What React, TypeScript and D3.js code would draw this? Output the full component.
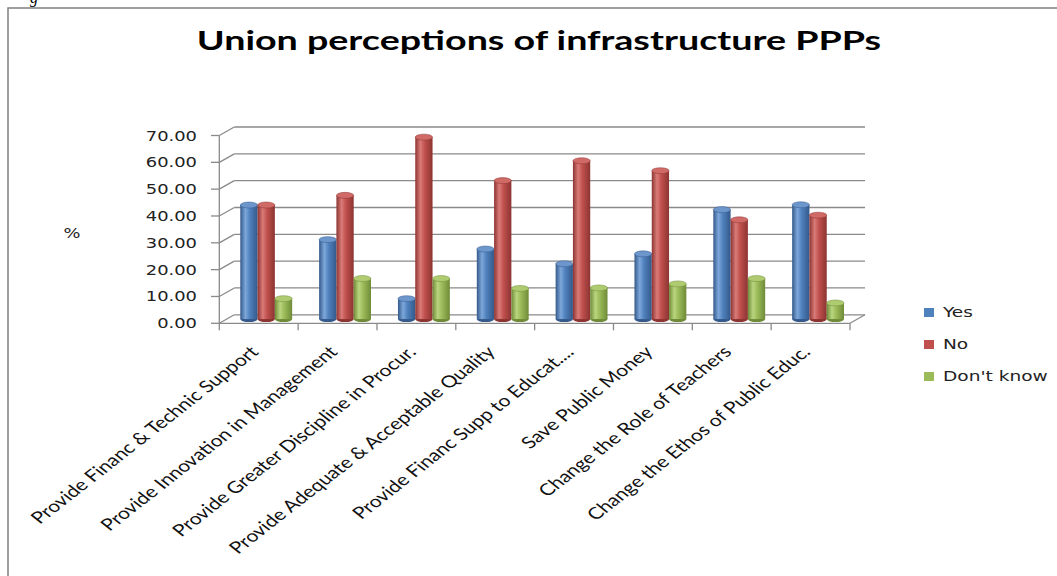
import React from 'react';
import { scaleBand, scaleLinear, range } from 'd3';

const categories = [
  'Provide Financ & Technic Support',
  'Provide Innovation in Management',
  'Provide Greater Discipline in Procur.',
  'Provide Adequate & Acceptable Quality',
  'Provide Financ Supp to Educat....',
  'Save Public Money',
  'Change the Role of Teachers',
  'Change the Ethos of Public Educ.',
];
const series = ['Yes', 'No', "Don't know"];
const yesValues = [42.5, 29.6, 7.6, 26.1, 20.6, 24.3, 40.8, 42.6];
const noValues = [42.5, 46.1, 67.8, 51.6, 59.0, 55.3, 37.0, 38.7];
const dontKnowValues = [7.6, 15.1, 15.1, 11.4, 11.6, 13.1, 15.1, 6.0];
const yTicks = [0, 10, 20, 30, 40, 50, 60, 70];

const colors = {
  Yes: { base: '#4F81BD', light: '#7DA7DA', dark: '#34598A', top: '#6C96CC' },
  No: { base: '#C0504D', light: '#DA7B78', dark: '#8C3432', top: '#D06A67' },
  "Don't know": { base: '#9BBB59', light: '#BAD57F', dark: '#6F8B38', top: '#AECB70' },
};

const SX = 1.28; // horizontal stretch of the picture
const DX = 15;
const DY = -8.5;
const grid = '#8a8a8a';

const App: React.FC = () => {
  const x = scaleBand<string>().domain(categories).range([219.3, 850]).padding(0);
  const inner = scaleBand<string>().domain(series).range([0, x.bandwidth()]).paddingOuter(0.78).paddingInner(0);
  const y = scaleLinear().domain([0, 70]).range([323.3, 135.5]);
  const valuesBy: Record<string, number[]> = { Yes: yesValues, No: noValues, "Don't know": dontKnowValues };

  const bw = inner.bandwidth();
  const rx = bw / 2;
  const ry = 3;

  return (
    <div style={{ position: 'absolute', left: 0, top: 0 }}>
      <svg width={1057} height={576} style={{ display: 'block', background: '#fff' }}>
        <defs>
          {series.map((s, i) => (
            <linearGradient key={s} id={`g${i}`} x1="0" x2="1" y1="0" y2="0">
              <stop offset="0%" stopColor={colors[s].dark} />
              <stop offset="30%" stopColor={colors[s].light} />
              <stop offset="55%" stopColor={colors[s].base} />
              <stop offset="100%" stopColor={colors[s].dark} />
            </linearGradient>
          ))}
        </defs>

        {/* page fragment above the frame */}
        <text x={30} y={3} fontFamily="'Liberation Serif', serif" fontSize={16} fontStyle="italic">g</text>
        <rect x={8} y={8} width={1200} height={700} fill="none" stroke="#808080" strokeWidth={1.5} />

        <text transform={`translate(539,50) scale(1.42,1)`} textAnchor="middle"
          fontFamily="Lato, 'Open Sans', sans-serif" fontWeight="bold" fontSize={26.5}>
          Union perceptions of infrastructure PPPs
        </text>

        {/* back wall gridlines and left wall diagonals */}
        {yTicks.map(t => (
          <g key={t} stroke={grid} strokeWidth={1.3} fill="none">
            <line x1={219.3 + DX} x2={850 + DX} y1={y(t) + DY} y2={y(t) + DY} />
            <line x1={219.3} x2={219.3 + DX} y1={y(t)} y2={y(t) + DY} />
            <line x1={211} x2={219.3} y1={y(t)} y2={y(t)} />
          </g>
        ))}
        <line x1={219.3} x2={219.3} y1={y(0)} y2={y(70)} stroke={grid} strokeWidth={1.3} />
        <line x1={219.3} x2={850} y1={y(0)} y2={y(0)} stroke={grid} strokeWidth={1.3} />
        <line x1={850} x2={850 + DX} y1={y(0)} y2={y(0) + DY} stroke={grid} strokeWidth={1.3} />
        {range(categories.length + 1).map(i => {
          const xx = 219.3 + i * x.step();
          return <line key={i} x1={xx} x2={xx} y1={y(0)} y2={y(0) + 7} stroke={grid} strokeWidth={1.3} />;
        })}

        {/* y tick labels */}
        {yTicks.map(t => (
          <text key={t} transform={`translate(197,${y(t) + 5}) scale(${SX},1)`} textAnchor="end"
            fontFamily="'DejaVu Sans', sans-serif" fontSize={14} fill="#222">
            {t.toFixed(2)}
          </text>
        ))}
        <text transform={`translate(72,238) scale(${SX},1)`} textAnchor="middle"
          fontFamily="'DejaVu Sans', sans-serif" fontSize={14} fill="#222">%</text>

        {/* cylinders */}
        {categories.map((c, ci) => (
          <g key={c}>
            {series.map((s, si) => {
              const v = valuesBy[s][ci];
              const x0 = (x(c) as number) + (inner(s) as number) + DX / 2;
              const base = y(0) + DY / 2;
              const top = y(v) + DY / 2;
              return (
                <g key={s}>
                  <ellipse cx={x0 + rx} cy={base} rx={rx} ry={ry} fill={colors[s].dark} />
                  <rect x={x0} y={top} width={bw} height={base - top} fill={`url(#g${si})`} />
                  <ellipse cx={x0 + rx} cy={top} rx={rx} ry={ry} fill={colors[s].top} stroke={colors[s].dark} strokeWidth={0.5} />
                </g>
              );
            })}
          </g>
        ))}

        {/* category labels */}
        {categories.map(c => (
          <text key={c}
            transform={`translate(${(x(c) as number) + x.bandwidth() / 2 + 1},${353}) scale(${SX},1) rotate(-45)`}
            textAnchor="end" fontFamily="Lato, 'Open Sans', sans-serif" fontSize={16.5} fill="#111">
            {c}
          </text>
        ))}

        {/* legend */}
        {series.map((s, i) => (
          <g key={s} transform={`translate(924,${308 + i * 32})`}>
            <rect x={0} y={0} width={10} height={9} fill={colors[s].base} />
            <text transform={`translate(19,8.5) scale(${SX},1)`} fontFamily="'DejaVu Sans', sans-serif"
              fontSize={14.5} fill="#222">{s}</text>
          </g>
        ))}
      </svg>
    </div>
  );
};

export default App;
